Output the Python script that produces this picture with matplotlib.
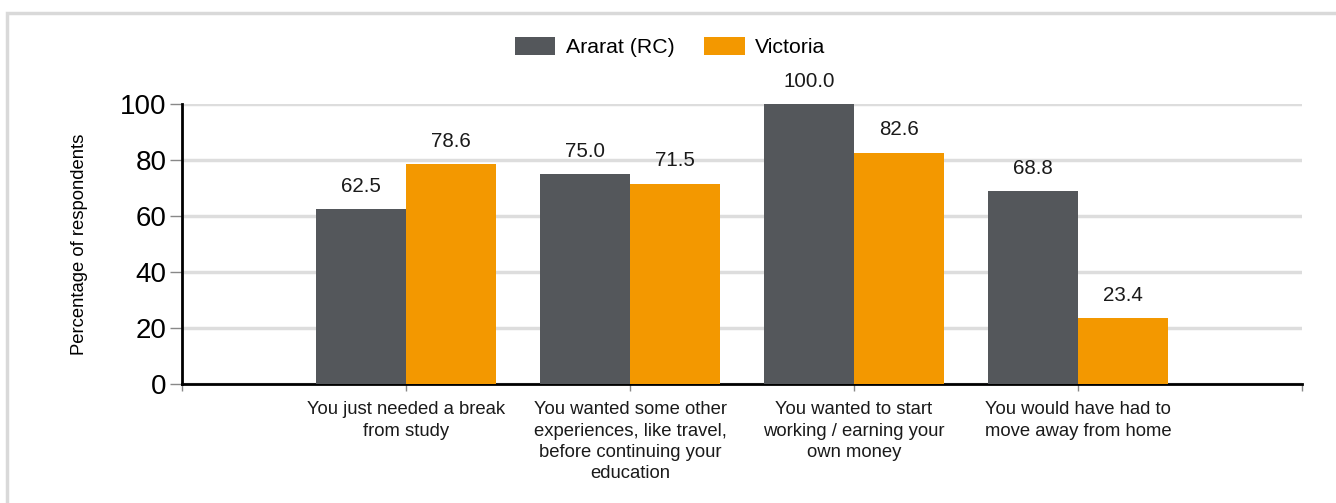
import numpy as np
import matplotlib.pyplot as plt
from matplotlib.patches import Rectangle

plt.rcParams['font.family'] = ['Liberation Sans', 'DejaVu Sans']

categories = [
    "You just needed a break\nfrom study",
    "You wanted some other\nexperiences, like travel,\nbefore continuing your\neducation",
    "You wanted to start\nworking / earning your\nown money",
    "You would have had to\nmove away from home",
]
ararat = [62.5, 75.0, 100.0, 68.8]
victoria = [78.6, 71.5, 82.6, 23.4]

fig = plt.figure(figsize=(13.36, 5.03), dpi=100)
ax = fig.add_axes([0.1362, 0.2366, 0.8384, 0.5566])

# light frame round the chart
fig.patches.append(Rectangle((7 / 1336, -0.2), 1.2, 1.2 - 13 / 503,
                             transform=fig.transFigure, fill=False,
                             edgecolor='#d9d9d9', linewidth=2.5))

x = np.arange(len(categories))
w = 0.4
b1 = ax.bar(x - w / 2, ararat, w, color='#54575b', label='Ararat (RC)', zorder=3)
b2 = ax.bar(x + w / 2, victoria, w, color='#f39800', label='Victoria', zorder=3)

for bars, vals in [(b1, ararat), (b2, victoria)]:
    for r, v in zip(bars, vals):
        ax.annotate(f"{v:.1f}", (r.get_x() + r.get_width() / 2, v),
                    xytext=(0, 16.5), textcoords='offset points',
                    ha='center', va='center', fontsize=14.8, color='#1a1a1a')

ax.set_xlim(-1, 4)
ax.set_ylim(0, 100)
ax.set_yticks(range(0, 101, 20))
ax.tick_params(axis='y', labelsize=20, length=9, color='#888888', width=1, pad=2)
ax.set_xticks([-1, 0, 1, 2, 3, 4])
ax.set_xticklabels([''] + categories + [''], fontsize=13.3, color='#1a1a1a',
                   linespacing=1.33)
ax.tick_params(axis='x', length=5, color='#888888', width=1, pad=7.5)

ax.grid(axis='y', color='#dddddd', linewidth=2.5, zorder=0)
for s in ['top', 'right']:
    ax.spines[s].set_visible(False)
ax.spines['left'].set_linewidth(2)
ax.spines['bottom'].set_linewidth(2)
ax.set_ylabel("Percentage of respondents", fontsize=13.3, labelpad=23)

ax.legend(loc='center', bbox_to_anchor=(670 / 1336, 1 - 47 / 503),
          bbox_transform=fig.transFigure, ncol=2, frameon=False, fontsize=15.3,
          handlelength=1.9, handleheight=0.9, handletextpad=0.5,
          columnspacing=1.4)

fig.savefig("out.png", dpi=100)
